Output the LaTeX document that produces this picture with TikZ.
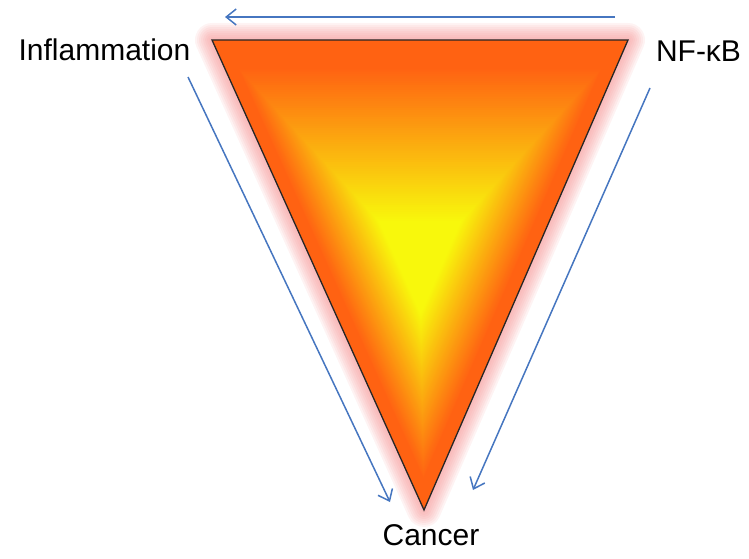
\documentclass[tikz,border=0pt]{standalone}
\usepackage{fontspec}
\setmainfont{Liberation Sans}
\usetikzlibrary{calc,arrows.meta}
\definecolor{arrowblue}{RGB}{70,118,192}
\definecolor{myorange}{RGB}{255,98,18}
\definecolor{myyellow}{RGB}{248,248,12}
\definecolor{glowpink}{RGB}{245,140,140}
\tikzset{
  flow/.style={draw=arrowblue, line width=1.5pt, -{Straight Barb[length=10pt,width=16pt,line width=1.5pt]}},
  lbl/.style={font=\fontsize{30}{36}\selectfont, anchor=base, inner sep=0pt, text=black},
  glowline/.style={draw=glowpink, line join=round, opacity=0.1},
  edge/.style={draw=black!85, line width=1.3pt, line join=miter}
}
\begin{document}
\begin{tikzpicture}[x=1pt,y=1pt]
\useasboundingbox (0,0) rectangle (749,558);
\coordinate (A) at (212,518);
\coordinate (B) at (628,518);
\coordinate (C) at (424,48);
\coordinate (O) at (420,292);
% glow
\foreach \w in {34,30,26,22,18,14,10,6}{
  \draw[glowline, line width=\w pt] (A) -- (B) -- (C) -- cycle;
}
% path gradient
\foreach \i in {0,...,99}{
  \pgfmathsetmacro\myt{1-\i/100}
  \pgfmathsetmacro\myu{max(0,min(1,(\myt-0.2)/0.68))}
  \pgfmathsetmacro\myp{100*\myu}
  \fill[myorange!\myp!myyellow] ($(O)!\myt!(A)$) -- ($(O)!\myt!(B)$) -- ($(O)!\myt!(C)$) -- cycle;
}
\draw[edge] (A) -- (B) -- (C) -- cycle;
% labels
\node[lbl] (infl) at (104.5,497) {Inflammation};
\node[lbl] (nfkb) at (698.5,496) {NF-κB};
\node[lbl] (canc) at (431,13) {Cancer};
% arrows
\coordinate (t1) at (615,541);
\coordinate (t2) at (225,541);
\coordinate (l1) at (188,481);
\coordinate (l2) at (390,56);
\coordinate (r1) at (650,470);
\coordinate (r2) at (473,68);
\draw[flow] (t1) -- (t2);
\draw[flow] (l1) -- (l2);
\draw[flow] (r1) -- (r2);
\end{tikzpicture}
\end{document}
